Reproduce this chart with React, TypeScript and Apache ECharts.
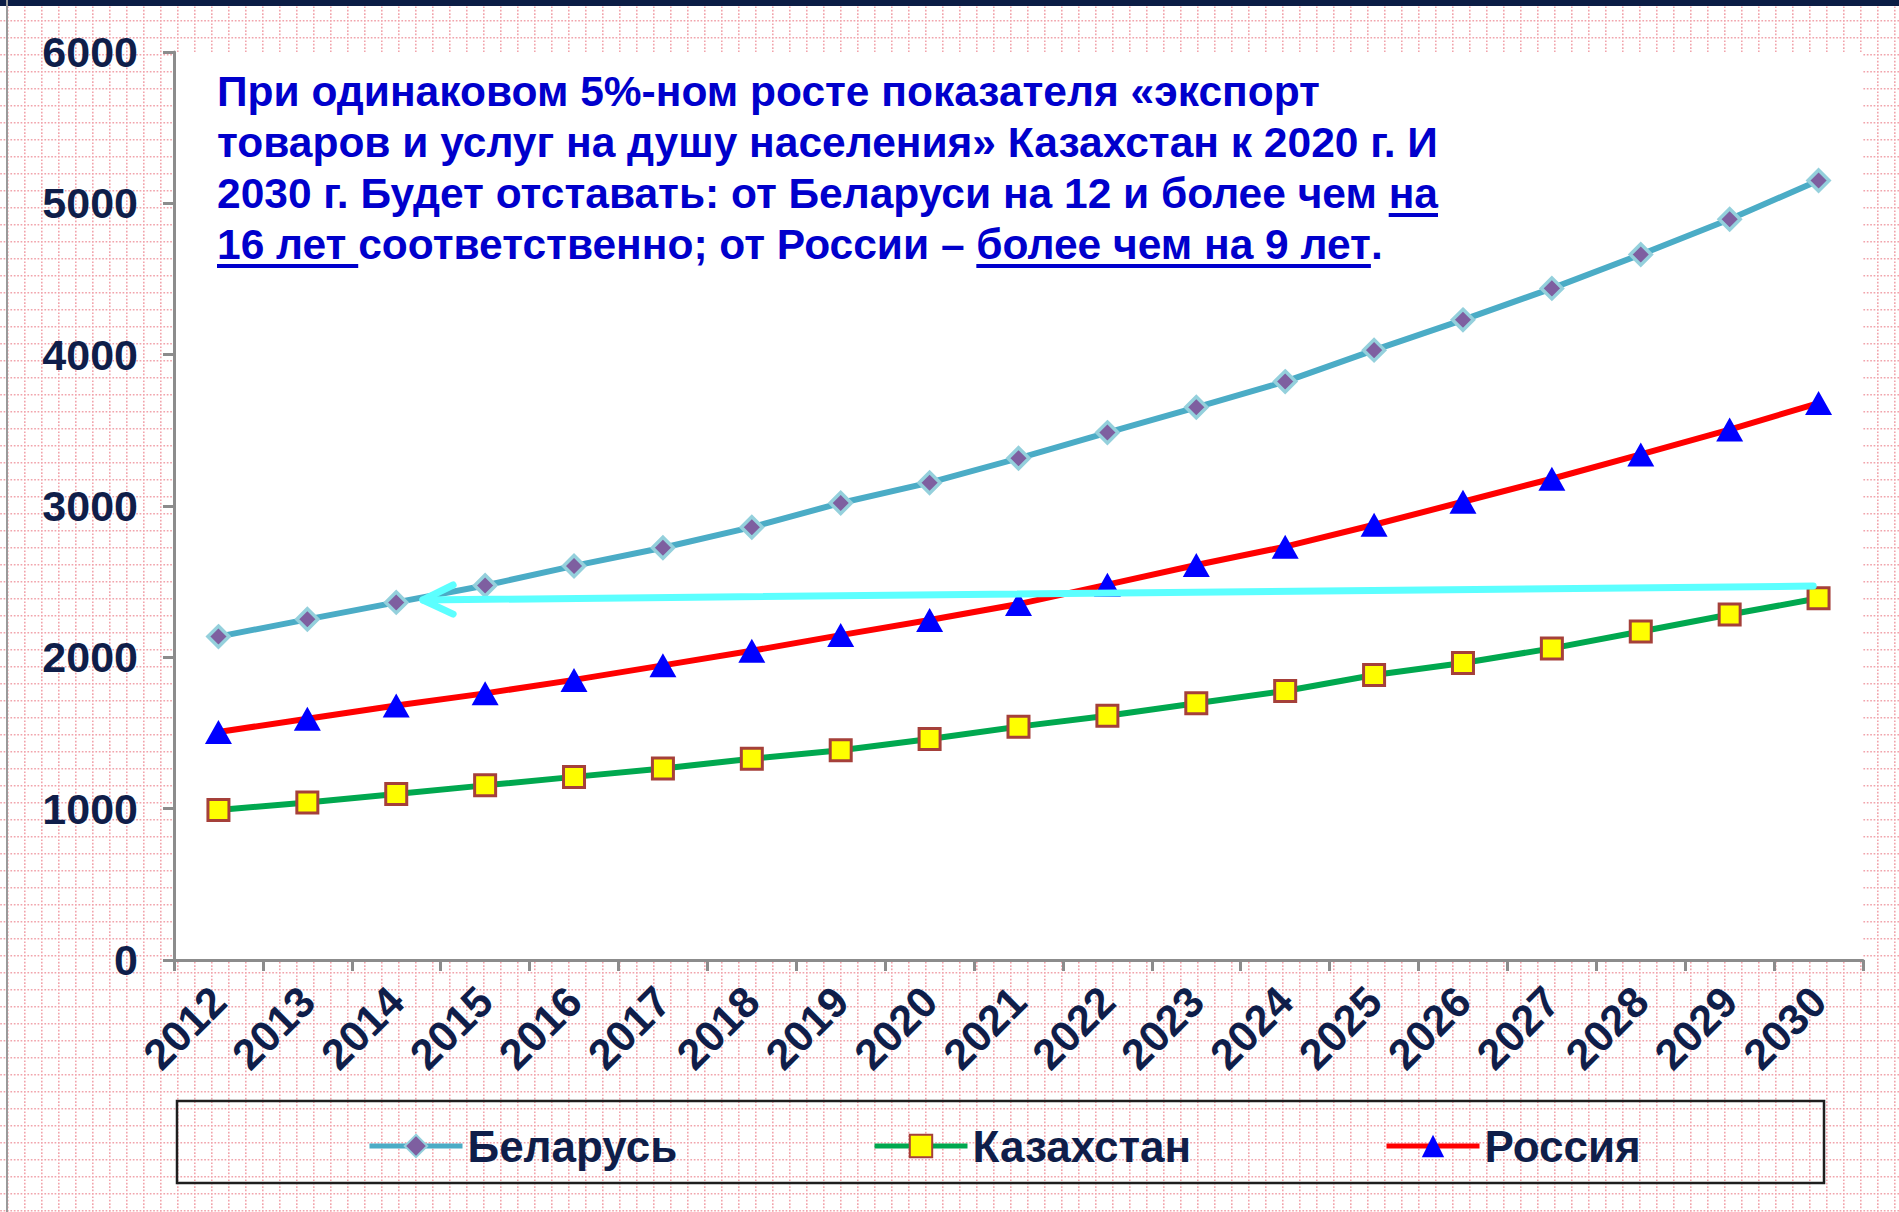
import { useEffect, useRef } from "react";
import * as echarts from "echarts";

// ---- data ----
const years = ["2012", "2013", "2014", "2015", "2016", "2017", "2018", "2019", "2020", "2021", "2022", "2023", "2024", "2025", "2026", "2027", "2028", "2029", "2030"];
const belarus = [2137, 2251, 2363, 2475, 2604, 2724, 2860, 3020, 3154, 3315, 3485, 3652, 3822, 4030, 4230, 4438, 4662, 4895, 5151];
const kazakhstan = [991, 1041, 1097, 1154, 1210, 1266, 1330, 1386, 1460, 1542, 1614, 1696, 1778, 1883, 1963, 2059, 2171, 2283, 2390];
const russia = [1507, 1594, 1682, 1762, 1851, 1947, 2043, 2147, 2247, 2352, 2480, 2610, 2731, 2876, 3028, 3180, 3341, 3505, 3680];
const seriesNames = ["Беларусь", "Казахстан", "Россия"];
const yMin = 0;
const yMax = 6000;
const yStep = 1000;
// annotation arrow (x in fractional years, y in values)
const arrowShaft = [[2029.94, 2471], [2014.3, 2379]];
const arrowHead = [[2014.64, 2478], [2014.3, 2379], [2014.64, 2286]];

// annotation text, segments with underline flag
const noteLines = [
  [{ t: "При одинаковом 5%-ном росте показателя «экспорт", u: false }],
  [{ t: "товаров и услуг на душу населения» Казахстан к 2020 г. И", u: false }],
  [{ t: "2030 г. Будет отставать: от Беларуси на 12 и более чем ", u: false }, { t: "на", u: true }],
  [
    { t: "16 лет ", u: true },
    { t: "соответственно; от России – ", u: false },
    { t: "более чем на 9 лет", u: true },
    { t: ".", u: false },
  ],
];

const FAMILY = '"Liberation Sans", Arial, Helvetica, sans-serif';
const NAVY = "#0F1E4A";
const NOTE_BLUE = "#0000CC";

function measure(text: string, size: number) {
  const c = document.createElement("canvas").getContext("2d")!;
  c.font = `bold ${size}px ${FAMILY}`;
  return c.measureText(text).width;
}

const tileSvg =
  "<svg xmlns='http://www.w3.org/2000/svg' width='17' height='17'>" +
  "<path d='M0.8 0V17M0 0.8H17' stroke='#F1A4AC' stroke-width='1.6' stroke-dasharray='1.7 1.7' fill='none'/></svg>";
const tileUrl = `url("data:image/svg+xml;utf8,${encodeURIComponent(tileSvg)}")`;

export default function App() {
  const ref = useRef<HTMLDivElement>(null);

  useEffect(() => {
    document.body.style.margin = "0";
    if (!ref.current) return;
    const chart = echarts.init(ref.current, undefined, { renderer: "svg" });

    // annotation text layout
    const line3 = noteLines[2].map((s) => s.t).join("");
    const fs = Math.round((100 * 1224) / measure(line3, 100) * 2) / 2;
    const font = `bold ${fs}px ${FAMILY}`;
    const textLeft = 217;
    const lineYs = [91, 142, 193, 244];
    const noteGraphics: any[] = [];
    noteLines.forEach((segs, li) => {
      let x = textLeft;
      const y = lineYs[li];
      segs.forEach((s) => {
        const w = measure(s.t, fs);
        noteGraphics.push({
          type: "text",
          x,
          y,
          z: 100,
          style: { text: s.t, font, fill: NOTE_BLUE, textAlign: "left", textVerticalAlign: "middle" },
        });
        if (s.u) {
          noteGraphics.push({
            type: "rect",
            z: 100,
            shape: { x, y: y + fs * 0.35 + 5, width: w, height: 4 },
            style: { fill: NOTE_BLUE },
          });
        }
        x += w;
      });
    });

    const legendCommon = {
      top: 1124,
      itemWidth: 93,
      itemHeight: 28,
      padding: 0,
      lineStyle: { width: 5 },
      textStyle: { fontSize: 44, fontWeight: "bold", color: NAVY, fontFamily: FAMILY, lineHeight: 44 },
    };

    const option: any = {
      animation: false,
      backgroundColor: "transparent",
      grid: {
        left: 174,
        top: 52,
        width: 1689,
        height: 908,
        show: true,
        backgroundColor: "#FFFFFF",
        borderWidth: 0,
      },
      xAxis: [
        {
          type: "category",
          data: years,
          boundaryGap: true,
          axisLine: { show: true, lineStyle: { color: "#8C8C8C", width: 3 } },
          axisTick: { show: true, interval: 0, length: 11, lineStyle: { color: "#8C8C8C", width: 3 } },
          axisLabel: {
            interval: 0,
            rotate: 45,
            margin: 34,
            fontSize: 43,
            fontWeight: "bold",
            color: NAVY,
            fontFamily: FAMILY,
          },
          splitLine: { show: false },
        },
        {
          type: "value",
          min: 2011.5,
          max: 2030.5,
          show: false,
          splitLine: { show: false },
        },
      ],
      yAxis: {
        type: "value",
        min: yMin,
        max: yMax,
        interval: yStep,
        axisLine: { show: true, lineStyle: { color: "#8C8C8C", width: 3 } },
        axisTick: { show: true, length: 11, lineStyle: { color: "#8C8C8C", width: 3 } },
        axisLabel: {
          margin: 36,
          fontSize: 43,
          fontWeight: "bold",
          color: NAVY,
          fontFamily: FAMILY,
          formatter: (v: number) => String(v),
        },
        splitLine: { show: false },
      },
      legend: [
        { ...legendCommon, left: 367, data: [seriesNames[0]] },
        { ...legendCommon, left: 872, data: [seriesNames[1]] },
        { ...legendCommon, left: 1384, data: [seriesNames[2]] },
      ],
      graphic: [
        { type: "rect", z: 1, shape: { x: 0, y: 0, width: 1899, height: 6 }, style: { fill: "#0B1D45" } },
        { type: "rect", z: 1, shape: { x: 6, y: 0, width: 2, height: 1212 }, style: { fill: "#9A9A9A" } },
        {
          type: "rect",
          z: 1,
          shape: { x: 177, y: 1101, width: 1647, height: 82 },
          style: { fill: "transparent", stroke: "#1E1E1E", lineWidth: 2.5 },
        },
        ...noteGraphics,
      ],
      series: [
        {
          name: seriesNames[1],
          type: "line",
          data: kazakhstan,
          symbol: "rect",
          symbolSize: 21,
          z: 3,
          lineStyle: { color: "#00A84F", width: 6 },
          itemStyle: { color: "#FFFF00", borderColor: "#A5403A", borderWidth: 3 },
        },
        {
          name: seriesNames[2],
          type: "line",
          data: russia,
          symbol: "triangle",
          symbolSize: [27, 24],
          z: 3,
          lineStyle: { color: "#FF0000", width: 6 },
          itemStyle: { color: "#0000FF", borderWidth: 0 },
        },
        {
          name: seriesNames[0],
          type: "line",
          data: belarus,
          symbol: "diamond",
          symbolSize: 21,
          z: 3,
          lineStyle: { color: "#4BACC6", width: 6 },
          itemStyle: { color: "#7E5FA0", borderColor: "#94D0DC", borderWidth: 3.5 },
        },
        {
          name: "arrow",
          type: "line",
          xAxisIndex: 1,
          data: arrowShaft,
          symbol: "none",
          silent: true,
          z: 6,
          lineStyle: { color: "#5CFFFF", width: 7, cap: "round" },
        },
        {
          name: "arrowHead",
          type: "line",
          xAxisIndex: 1,
          data: arrowHead,
          symbol: "none",
          silent: true,
          z: 6,
          lineStyle: { color: "#5CFFFF", width: 7, cap: "round", join: "round" },
        },
      ],
    };

    chart.setOption(option);
    return () => chart.dispose();
  }, []);

  return (
    <div
      ref={ref}
      style={{
        position: "absolute",
        left: 0,
        top: 0,
        width: 1899,
        height: 1212,
        backgroundColor: "#FFFFFF",
        backgroundImage: tileUrl,
        backgroundPosition: "7px 3px",
      }}
    />
  );
}
